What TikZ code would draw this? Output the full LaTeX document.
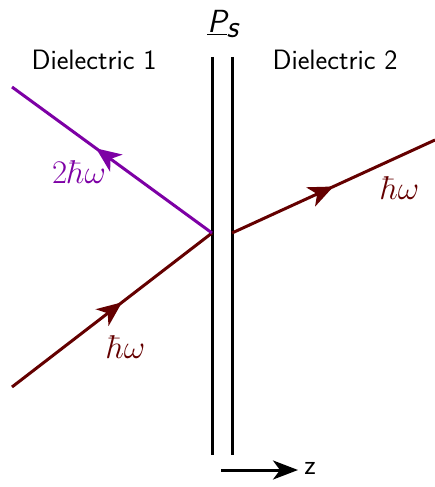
\RequirePackage{fix-cm}
\documentclass[tikz,border=0pt]{standalone}
\usepackage{fontspec}
\usetikzlibrary{arrows.meta,decorations.markings}
\definecolor{dred}{RGB}{100,0,0}
\definecolor{dpurple}{RGB}{125,0,165}
\begin{document}
\begin{tikzpicture}[x=1pt,y=-1pt,font=\sffamily\fontsize{28}{32}\selectfont,
  beam/.style={line width=3pt},
  mlabel/.style={font=\fontsize{33}{36}\selectfont},
  midarrow/.style={postaction={decorate},decoration={markings,mark=at position #1 with {\arrow{Stealth[length=25pt,width=21pt,inset=7pt]}}}},
  plate/.style={line width=3pt,black}]
\useasboundingbox (0,0) rectangle (435,487);
\coordinate (pt) at (212,57);
\coordinate (pb) at (212,455);
\coordinate (qt) at (232,57);
\coordinate (qb) at (232,455);
\draw[plate] (pt) -- (pb);
\draw[plate] (qt) -- (qb);
\coordinate (hit) at (212,233);
\coordinate (out) at (232,233);
\coordinate (inA) at (12,387);
\coordinate (inB) at (12,87);
\coordinate (far) at (435,140);
\draw[beam,dred,midarrow=0.55] (inA) -- (hit);
\draw[beam,dpurple,midarrow=0.58] (hit) -- (inB);
\draw[beam,dred,midarrow=0.5] (out) -- (far);
\node[dred,mlabel] (l1) at (126,347) {$\hbar\omega$};
\node[dpurple,mlabel] (l2) at (79,172) {$2\hbar\omega$};
\node[dred,mlabel] (l3) at (400,188) {$\hbar\omega$};
\node (d1) at (94,60) {Dielectric 1};
\node (d2) at (335,60) {Dielectric 2};
\node[font=\sffamily\fontsize{32}{36}\selectfont] (ps) at (223,24) {$\underline{\textsf{\itshape P}}_{\textsf{\itshape s}}$};
\coordinate (za) at (221,470);
\coordinate (zb) at (298,470);
\draw[line width=3pt,-{Stealth[length=25pt,width=19pt,inset=7pt]}] (za) -- (zb);
\node (z) at (310,468) {z};
\end{tikzpicture}
\end{document}
